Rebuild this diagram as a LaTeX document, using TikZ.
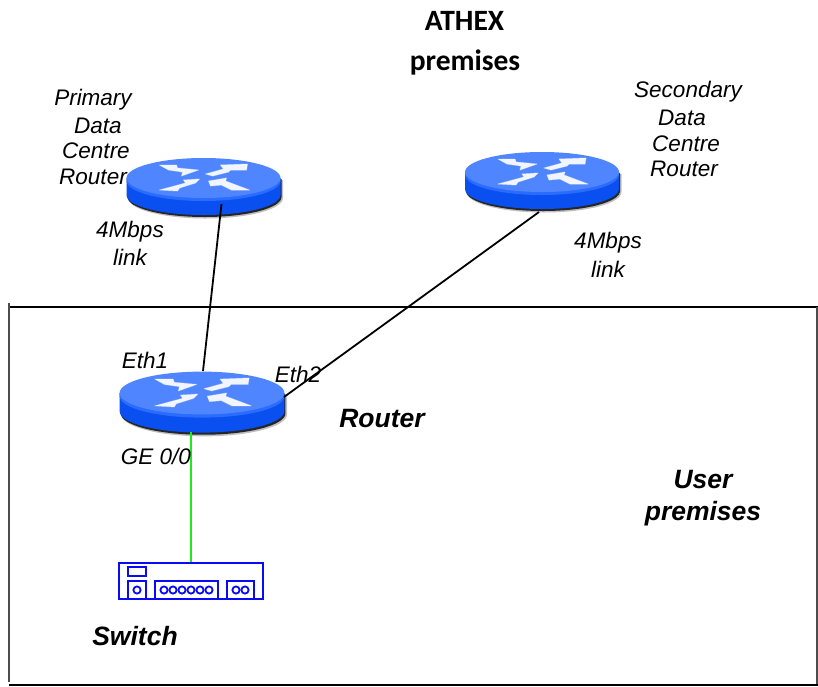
\documentclass[tikz,border=0pt]{standalone}
\usepackage{fontspec}
\setmainfont{Liberation Sans}
\newfontfamily\calibrifont{Carlito}
\usetikzlibrary{shapes.geometric}
\definecolor{rtop}{HTML}{4F86FF}
\definecolor{rside}{HTML}{0A50F0}
\definecolor{rrim}{HTML}{2A6CFF}
\definecolor{swblue}{HTML}{0A0AF5}
\definecolor{glink}{HTML}{1CEB1C}
\tikzset{
  x=1pt,y=-1pt,
  lbl/.style={font=\fontsize{22.5}{25.5}\selectfont\itshape,align=center,inner sep=0pt,text=black},
  blbl/.style={font=\fontsize{26.5}{32}\selectfont\bfseries\itshape,align=center,inner sep=0pt,text=black},
  title/.style={font=\calibrifont\fontsize{29.5}{32}\selectfont\bfseries,inner sep=0pt,text=black},
  link/.style={draw=black,line width=1.8pt},
  frame/.style={draw=black,line width=2pt},
  frameside/.style={draw=black!70,line width=1.6pt},
  swline/.style={draw=swblue,line width=1.8pt},
  anchorbox/.style={inner sep=0pt,minimum width=#1,minimum height=10pt},
  arrowfill/.style={fill=white,draw=white,draw opacity=.35,line width=1pt,fill opacity=.92,line join=round},
  pics/routerpic/.style={code={
    \fill[black,opacity=.25] (-75.5,2) -- (-75.5,20) arc[start angle=180,end angle=0,x radius=77.5,y radius=20.5] -- (79.5,2) -- cycle;
    \fill[black,opacity=.8] (-76,1) -- (-76,19) arc[start angle=180,end angle=0,x radius=77,y radius=20] -- (78,1) -- cycle;
    \fill[rside] (-77,0) -- (-77,17) arc[start angle=180,end angle=0,x radius=77,y radius=20] -- (77,0) -- cycle;
    \fill[rrim] (-77,0) -- (-77,3) arc[start angle=180,end angle=0,x radius=77,y radius=20] -- (77,0) -- cycle;
    \fill[rtop] (0,0) ellipse[x radius=77,y radius=20];
    \path[arrowfill] (-44,-13) -- (-27,-13) -- (-26,-10) -- (-5,-8) -- (-22,-2) -- (-21,-6) -- (-35,-8) -- cycle;
    \path[arrowfill] (5,3) -- (23,0) -- (22,3) -- (46,12) -- (28,12) -- (18,7) -- (7,8) -- cycle;
    \path[arrowfill] (2,-4) -- (20,-9) -- (17,-13) -- (44,-14) -- (43,-8) -- (27,-8) -- (25,-6) -- (9,-2) -- cycle;
    \path[arrowfill] (-4,1) -- (-20,2) -- (-18,5) -- (-44,12) -- (-26,13) -- (-24,10) -- (-8,5) -- cycle;
  }}
}
\begin{document}
\begin{tikzpicture}
\useasboundingbox (0,0) rectangle (818,686);
\fill[white] (0,0) rectangle (818,686);
% frame
\coordinate (ftl) at (9,307);
\coordinate (ftr) at (818,307);
\coordinate (fbl) at (9,685);
\coordinate (fbr) at (818,685);
\coordinate (ftop) at (9,303);
\draw[frame] (ftl) -- (ftr);
\draw[frame] (fbl) -- (fbr);
\draw[frameside] (ftop) -- (9,682);
\draw[frameside] (817,307) -- (817,684);
% routers
\pic at (203.5,178) {routerpic};
\pic at (542,172) {routerpic};
\pic[xscale=1.07,yscale=1.07] at (202,393) {routerpic};
\node[anchorbox=154pt] (rp) at (203.5,178) {};
\node[anchorbox=154pt] (rs) at (542,172) {};
\node[anchorbox=166pt] (ru) at (202,393) {};
% switch
\node[draw=swblue,line width=1.8pt,inner sep=0pt,minimum width=144pt,minimum height=36pt] (sw) at (191,581) {};
\draw[swline] (128,567) rectangle (146,576);
\draw[swline] (128,599) -- (128,581) -- (146,581) -- (146,599);
\draw[swline] (137,590) circle[radius=3.6];
\draw[swline] (155,599) -- (155,581) -- (218,581) -- (218,599);
\foreach \x in {164,173,182,191,200,209} \draw[swline] (\x,590) circle[radius=3.6];
\draw[swline] (227,599) -- (227,581) -- (254,581) -- (254,599);
\foreach \x in {236,245} \draw[swline] (\x,590) circle[radius=3.6];
% connectors
\draw[link] ([shift={(18,26)}]rp.center) -- ([shift={(1,-22)}]ru.center);
\draw[link] ([shift={(-3,40)}]rs.center) -- ([shift={(82,4)}]ru.center);
\draw[draw=glink,line width=1.8pt] ([shift={(-11,39)}]ru.center) -- (sw.north);
% labels
\node[title] (t1) at (464.5,21) {ATHEX};
\node[title] (t2) at (465,62) {premises};
\node[lbl] (lp1) at (93,100) {Primary};
\node[lbl] (lp2) at (98,126) {Data};
\node[lbl] (lp3) at (96,151) {Centre};
\node[lbl] (lp4) at (93,177) {Router};
\node[lbl] (ls1) at (688,92) {Secondary};
\node[lbl] (ls2) at (682,118) {Data};
\node[lbl] (ls3) at (686,144) {Centre};
\node[lbl] (ls4) at (684,169) {Router};
\node[lbl] (ml1) at (130,232) {4Mbps};
\node[lbl] (ml2) at (130,257) {link};
\node[lbl] (mr1) at (608,243) {4Mbps};
\node[lbl] (mr2) at (608,269) {link};
\node[lbl] (e1) at (145,360) {Eth1};
\node[lbl] (e2) at (298,374) {Eth2};
\node[lbl] (ge) at (156,456) {GE 0/0};
\node[blbl] (rl) at (382,419) {Router};
\node[blbl] (up) at (703,498) {User\\premises};
\node[blbl] (sl) at (135,636) {Switch};
\end{tikzpicture}
\end{document}
